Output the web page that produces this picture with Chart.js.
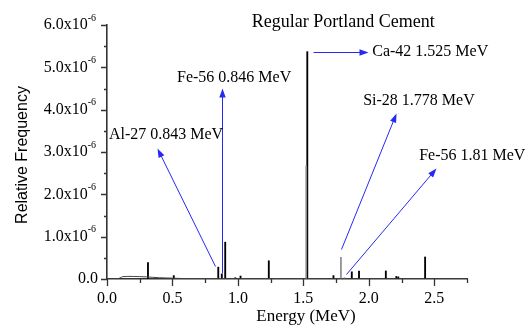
<!DOCTYPE html>
<html>
<head>
<meta charset="utf-8">
<script src="https://cdn.jsdelivr.net/npm/chart.js@4"></script>
<style>
  html, body { margin: 0; padding: 0; background: #fff; }
  #spec { display: block; }
</style>
</head>
<body>
<canvas id="spec" width="532" height="325"></canvas>
<script>
// ====== DATA (heights in units of 1e-6) ======
const darkEnergy = [0.313, 0.51, 0.85, 0.877, 0.903, 0.98, 1.02, 1.236, 1.53, 1.73, 1.87, 1.925, 2.13, 2.21, 2.225, 2.43];
const darkHeight = [0.39, 0.08, 0.28, 0.12, 0.87, 0.03, 0.07, 0.43, 5.37, 0.08, 0.17, 0.19, 0.19, 0.06, 0.05, 0.52];
const greyEnergy = [1.522, 1.787, 1.814];
const greyHeight = [2.67, 0.51, 0.03];
const contEnergy = [0.0, 0.08, 0.12, 0.2, 0.3, 0.4, 0.5, 0.6, 2.75];
const contValue  = [0, 0, 0.055, 0.06, 0.05, 0.03, 0.02, 0.01, 0.0];

const xTicks = [0, 0.5, 1.0, 1.5, 2.0, 2.5];
const xTickLabels = ['0.0', '0.5', '1.0', '1.5', '2.0', '2.5'];
const yTicks = [0, 1, 2, 3, 4, 5, 6];
const yTickLabels = ['0.0', '1.0x10', '2.0x10', '3.0x10', '4.0x10', '5.0x10', '6.0x10'];

const titleText = 'Regular Portland Cement';
// annotations: label, text anchor (E, value), arrow tail, arrow head
const noteLabels = ['Al-27 0.843 MeV', 'Fe-56 0.846 MeV', 'Ca-42 1.525 MeV', 'Si-28 1.778 MeV', 'Fe-56 1.81 MeV'];
const noteTextPos = [[0.015, 3.40], [0.535, 4.75], [2.026, 5.36], [1.957, 4.21], [2.385, 2.91]];
const arrowTail = [[0.826, 0.31], [0.875, 0.15], [1.575, 5.36], [1.789, 0.71], [1.827, 0.125]];
const arrowHead = [[0.382, 3.10], [0.875, 4.51], [1.995, 5.36], [2.207, 3.92], [2.513, 2.62]];

const toXY = (xs, ys) => xs.map((x, i) => ({ x: x, y: ys[i] }));

// ====== DRAWING EXTRAS ======
const AXIS = '#333';
const BLUE = 'rgb(40,40,245)';
const snap = v => Math.round(v) + 0.5;

function arrow(ctx, x1, y1, x2, y2) {
    const a = Math.atan2(y2 - y1, x2 - x1);
    const len = 9, w = 3.2;
    ctx.beginPath();
    ctx.moveTo(x1, y1);
    ctx.lineTo(x2 - Math.cos(a) * len * 0.8, y2 - Math.sin(a) * len * 0.8);
    ctx.stroke();
    ctx.beginPath();
    ctx.moveTo(x2, y2);
    ctx.lineTo(x2 - Math.cos(a) * len + Math.sin(a) * w, y2 - Math.sin(a) * len - Math.cos(a) * w);
    ctx.lineTo(x2 - Math.cos(a) * len - Math.sin(a) * w, y2 - Math.sin(a) * len + Math.cos(a) * w);
    ctx.closePath();
    ctx.fill();
}

const extras = {
    id: 'extras',
    afterDraw(chart) {
        const ctx = chart.ctx;
        const xs = chart.scales.x, ys = chart.scales.y;
        const area = chart.chartArea;
        ctx.save();

        // ticks
        ctx.strokeStyle = AXIS;
        ctx.lineWidth = 1.3;
        ctx.beginPath();
        for (let v = 0; v <= 2.75 + 1e-9; v += 0.25) {
            const px = snap(xs.getPixelForValue(v));
            const major = Math.abs(v / 0.5 - Math.round(v / 0.5)) < 1e-6;
            ctx.moveTo(px, area.bottom);
            ctx.lineTo(px, area.bottom + (major ? 7 : 4));
        }
        for (let v = 0; v <= 6 + 1e-9; v += 0.5) {
            const py = snap(ys.getPixelForValue(v));
            const major = Math.abs(v - Math.round(v)) < 1e-6;
            ctx.moveTo(area.left, py);
            ctx.lineTo(area.left - (major ? 6 : 3), py);
        }
        ctx.stroke();

        // tick labels
        ctx.fillStyle = '#000';
        ctx.font = '16px "Liberation Serif"';
        ctx.textAlign = 'center';
        ctx.textBaseline = 'middle';
        xTicks.forEach((v, i) => ctx.fillText(xTickLabels[i], xs.getPixelForValue(v), area.bottom + 20));
        yTicks.forEach((v, i) => {
            const py = ys.getPixelForValue(v);
            if (v === 0) {
                ctx.textAlign = 'right';
                ctx.font = '16px "Liberation Serif"';
                ctx.fillText(yTickLabels[i], area.left - 9, py);
                return;
            }
            ctx.font = '10px "Liberation Serif"';
            ctx.textAlign = 'right';
            const supW = ctx.measureText('-6').width;
            ctx.fillText('-6', area.left - 11, py - 7);
            ctx.font = '16px "Liberation Serif"';
            ctx.fillText(yTickLabels[i], area.left - 11 - supW, py);
        });

        // axis titles
        ctx.font = '17px "Liberation Serif"';
        ctx.textAlign = 'center';
        ctx.fillText('Energy (MeV)', 306, 317);
        ctx.save();
        ctx.translate(23, (area.top + area.bottom) / 2 + 3);
        ctx.rotate(-Math.PI / 2);
        ctx.font = '16px "Liberation Sans"';
        ctx.fillText('Relative Frequency', 0, 0);
        ctx.restore();

        // title
        ctx.font = '18px "Liberation Serif"';
        ctx.fillText(titleText, xs.getPixelForValue(1.804), ys.getPixelForValue(6.07));

        // annotations
        ctx.strokeStyle = BLUE;
        ctx.fillStyle = BLUE;
        ctx.lineWidth = 1;
        arrowTail.forEach((t, i) => {
            const h = arrowHead[i];
            arrow(ctx, snap(xs.getPixelForValue(t[0])), snap(ys.getPixelForValue(t[1])),
                snap(xs.getPixelForValue(h[0])), snap(ys.getPixelForValue(h[1])));
        });
        ctx.fillStyle = '#000';
        ctx.font = '16px "Liberation Serif"';
        ctx.textAlign = 'left';
        noteLabels.forEach((s, i) => {
            ctx.fillText(s, xs.getPixelForValue(noteTextPos[i][0]), ys.getPixelForValue(noteTextPos[i][1]));
        });
        ctx.restore();
    }
};

// ====== CHART ======
const ctx = document.getElementById('spec').getContext('2d');
new Chart(ctx, {
    type: 'bar',
    data: {
        datasets: [
            { type: 'line', data: toXY(contEnergy, contValue), borderColor: '#444', borderWidth: 1, pointRadius: 0, fill: false, tension: 0.3 },
            { data: toXY(greyEnergy, greyHeight), backgroundColor: '#888', barThickness: 1 },
            { data: toXY(darkEnergy, darkHeight), backgroundColor: '#000', barThickness: 1.2 }
        ]
    },
    options: {
        responsive: false,
        animation: false,
        devicePixelRatio: 1,
        layout: { padding: { left: 0, top: 25, right: 65, bottom: 0 } },
        datasets: { bar: { grouped: false } },
        plugins: { legend: { display: false }, tooltip: { enabled: false } },
        scales: {
            x: {
                type: 'linear', min: 0, max: 2.75, offset: false,
                grid: { display: false },
                ticks: { display: false },
                border: { display: true, color: AXIS, width: 1.6 },
                afterFit: s => { s.height = 46; }
            },
            y: {
                type: 'linear', min: 0, max: 6,
                grid: { display: false },
                ticks: { display: false },
                border: { display: true, color: AXIS, width: 1.6 },
                afterFit: s => { s.width = 107; }
            }
        }
    },
    plugins: [extras]
});
</script>
</body>
</html>
